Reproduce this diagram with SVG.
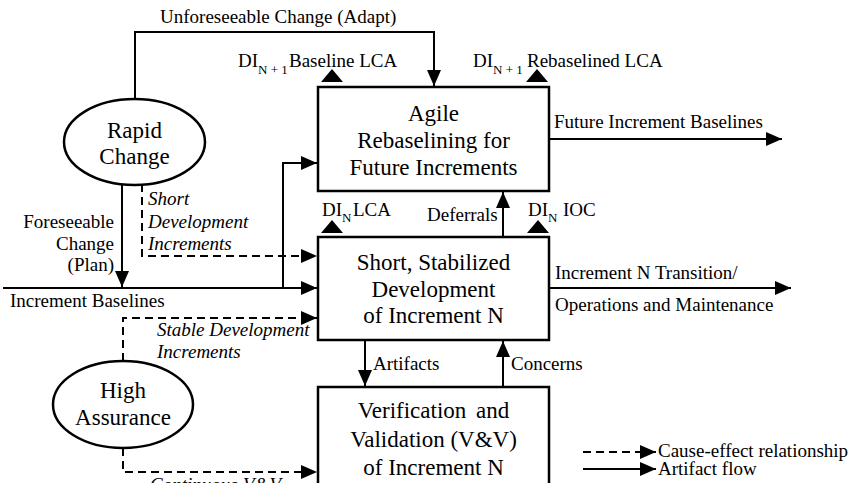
<svg xmlns="http://www.w3.org/2000/svg" width="851" height="483" viewBox="0 0 851 483" font-family="Liberation Serif, serif">
  <style>
    svg, g, text, tspan { font-family: 'Liberation Serif', 'Times New Roman', serif !important; }
    .box { fill: #ffffff; stroke: #000000; stroke-width: 2.5; }
    .oval { fill: #ffffff; stroke: #000000; stroke-width: 2.5; }
    .node { font-size: 23px; text-anchor: middle; fill: #000000; }
    .lbl { font-size: 19px; fill: #000000; }
    .it { font-style: italic; }
    .sub { font-size: 13px; }
    .flow { fill: none; stroke: #000000; stroke-width: 2; marker-end: url(#ah); }
    .cause { fill: none; stroke: #000000; stroke-width: 2; stroke-dasharray: 8 5; marker-end: url(#ah); }
    .tick { fill: #000000; }
  </style>
  <defs>
    <marker id="ah" markerUnits="userSpaceOnUse" viewBox="0 0 16 14" markerWidth="16" markerHeight="14" refX="16" refY="7" orient="auto">
      <path d="M0,0 L16,7 L0,14 z" fill="#000000"/>
    </marker>
  </defs>
  <rect width="851" height="483" fill="#ffffff"/>

  <!-- connectors: solid = artifact flow, dashed = cause-effect -->
  <g id="connectors">
    <path class="flow" d="M135,100 V32 H434 V86"/>
    <path class="flow" d="M122,184 V287"/>
    <path class="flow" d="M3,288 H317"/>
    <path class="flow" d="M283,288 V163 H317"/>
    <path class="flow" d="M550,139 H782"/>
    <path class="flow" d="M550,288 H791"/>
    <path class="flow" d="M503,237 V192"/>
    <path class="flow" d="M365,341 V386"/>
    <path class="flow" d="M503,387 V341"/>
    <path class="cause" d="M142,184 V256 H317"/>
    <path class="cause" d="M123,361 V318 H317"/>
    <path class="cause" d="M123,448 V472 H317"/>
    <!-- milestone markers on box edges -->
    <polygon class="tick" points="321,82 343,82 332,69"/>
    <polygon class="tick" points="526,82 548,82 537,69"/>
    <polygon class="tick" points="321,233 343,233 332,220"/>
    <polygon class="tick" points="527,233 549,233 538,220"/>
  </g>

  <!-- connector labels (19px; subscripts 13px) -->
  <g id="labels">
    <text class="lbl" x="160" y="23" style="font-family:'Liberation Serif',serif !important">Unforeseeable Change (Adapt)</text>
    <text class="lbl" x="238" y="67" style="font-family:'Liberation Serif',serif !important">DI<tspan class="sub" dy="7">N + 1</tspan><tspan x="289" dy="-7">Baseline LCA</tspan></text>
    <text class="lbl" x="473" y="67" style="font-family:'Liberation Serif',serif !important">DI<tspan class="sub" dy="7">N + 1</tspan><tspan x="527" dy="-7">Rebaselined LCA</tspan></text>
    <text class="lbl" x="554" y="128" style="font-family:'Liberation Serif',serif !important">Future Increment Baselines</text>
    <text class="lbl" x="322" y="216" style="font-family:'Liberation Serif',serif !important">DI<tspan class="sub" dy="6">N</tspan><tspan x="353" dy="-6">LCA</tspan></text>
    <text class="lbl" x="528" y="216" style="font-family:'Liberation Serif',serif !important">DI<tspan class="sub" dy="6">N</tspan><tspan x="563" dy="-6">IOC</tspan></text>
    <text class="lbl" x="427" y="221" style="font-family:'Liberation Serif',serif !important">Deferrals</text>
    <text class="lbl" x="114" y="228" text-anchor="end" style="font-family:'Liberation Serif',serif !important">Foreseeable</text>
    <text class="lbl" x="114" y="250" text-anchor="end" style="font-family:'Liberation Serif',serif !important">Change</text>
    <text class="lbl" x="114" y="271" text-anchor="end" style="font-family:'Liberation Serif',serif !important">(Plan)</text>
    <text class="lbl it" x="148" y="205" style="font-family:'Liberation Serif',serif !important">Short</text>
    <text class="lbl it" x="148" y="227.5" style="font-family:'Liberation Serif',serif !important">Development</text>
    <text class="lbl it" x="148" y="250" style="font-family:'Liberation Serif',serif !important">Increments</text>
    <text class="lbl it" x="157" y="336" style="font-family:'Liberation Serif',serif !important">Stable Development</text>
    <text class="lbl it" x="157" y="358" style="font-family:'Liberation Serif',serif !important">Increments</text>
    <text class="lbl it" x="150" y="491" style="font-family:'Liberation Serif',serif !important">Continuous<tspan x="243">V&amp;V</tspan></text>
    <text class="lbl" x="10" y="307" style="font-family:'Liberation Serif',serif !important">Increment Baselines</text>
    <text class="lbl" x="555" y="279" style="font-family:'Liberation Serif',serif !important">Increment N Transition/</text>
    <text class="lbl" x="555" y="311" style="font-family:'Liberation Serif',serif !important">Operations and Maintenance</text>
    <text class="lbl" x="373" y="370" style="font-family:'Liberation Serif',serif !important">Artifacts</text>
    <text class="lbl" x="511" y="370" style="font-family:'Liberation Serif',serif !important">Concerns</text>
  </g>

  <g id="agile-rebaselining">
    <rect class="box" x="318" y="87" width="231" height="104"/>
    <text class="node" x="433.5" y="121" style="font-family:'Liberation Serif',serif !important">Agile</text>
    <text class="node" x="433.5" y="148" style="font-family:'Liberation Serif',serif !important">Rebaselining for</text>
    <text class="node" x="433.5" y="175" style="font-family:'Liberation Serif',serif !important">Future Increments</text>
  </g>

  <g id="short-development">
    <rect class="box" x="318" y="237" width="231" height="103"/>
    <text class="node" x="433.5" y="270" style="font-family:'Liberation Serif',serif !important">Short, Stabilized</text>
    <text class="node" x="433.5" y="297" style="font-family:'Liberation Serif',serif !important">Development</text>
    <text class="node" x="433.5" y="323" style="font-family:'Liberation Serif',serif !important">of Increment N</text>
  </g>

  <g id="verification-validation">
    <rect class="box" x="318" y="387" width="231" height="110"/>
    <text class="node" x="433.5" y="418" word-spacing="4" style="font-family:'Liberation Serif',serif !important">Verification and</text>
    <text class="node" x="433.5" y="447" style="font-family:'Liberation Serif',serif !important">Validation (V&amp;V)</text>
    <text class="node" x="433.5" y="475" style="font-family:'Liberation Serif',serif !important">of Increment N</text>
  </g>

  <g id="rapid-change">
    <ellipse class="oval" cx="134.5" cy="142" rx="70.5" ry="43"/>
    <text class="node" x="134.5" y="138" style="font-family:'Liberation Serif',serif !important">Rapid</text>
    <text class="node" x="134.5" y="164" style="font-family:'Liberation Serif',serif !important">Change</text>
  </g>

  <g id="high-assurance">
    <ellipse class="oval" cx="123" cy="404.5" rx="70" ry="43.5"/>
    <text class="node" x="123" y="398" style="font-family:'Liberation Serif',serif !important">High</text>
    <text class="node" x="123" y="425" style="font-family:'Liberation Serif',serif !important">Assurance</text>
  </g>

  <g id="legend">
    <path class="cause" d="M583,452 H656"/>
    <path class="flow" d="M583,469 H656"/>
    <text class="lbl" x="658" y="457" style="font-family:'Liberation Serif',serif !important">Cause-effect relationship</text>
    <text class="lbl" x="658" y="475" style="font-family:'Liberation Serif',serif !important">Artifact flow</text>
  </g>
</svg>
